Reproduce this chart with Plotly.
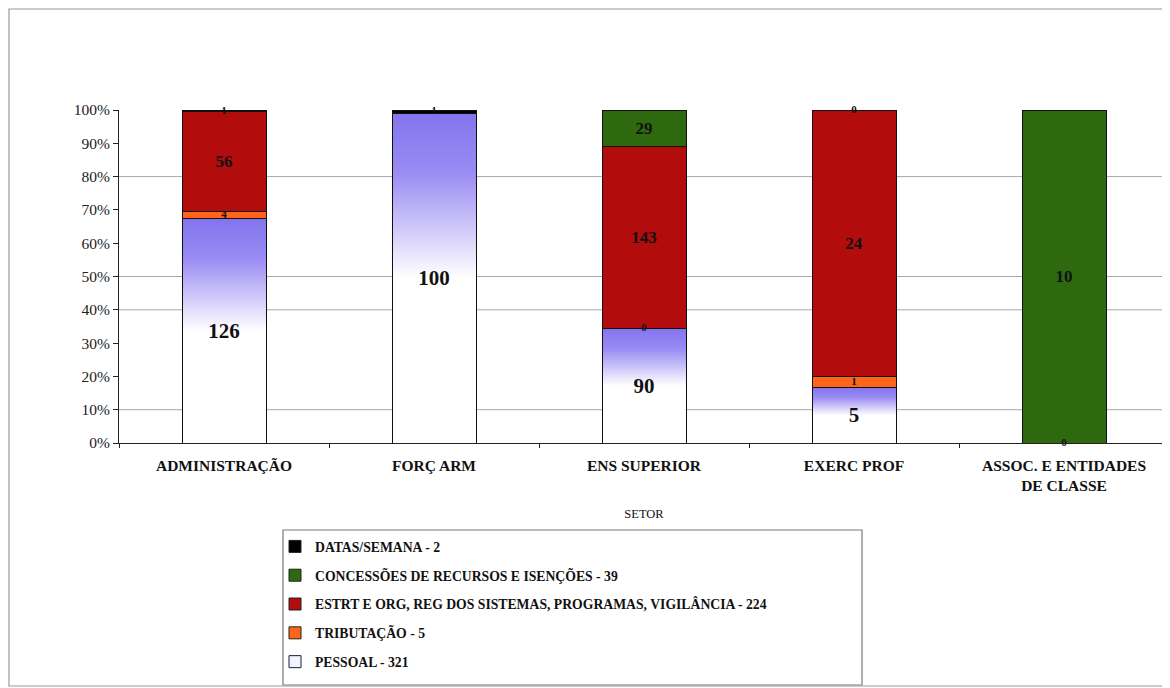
import plotly.graph_objects as go

# ---------------- data ----------------
categories = ["ADMINISTRAÇÃO", "FORÇ ARM", "ENS SUPERIOR", "EXERC PROF", "ASSOC. E ENTIDADES<br>DE CLASSE"]
pessoal = [126, 100, 90, 5, 0]
tributacao = [4, 0, 0, 1, 0]
estrt = [56, 0, 143, 24, 0]
concessoes = [0, 0, 29, 0, 10]
datas = [1, 1, 0, 0, 0]

series_names = [
    "PESSOAL - 321",
    "TRIBUTAÇÃO - 5",
    "ESTRT E ORG, REG DOS SISTEMAS, PROGRAMAS, VIGILÂNCIA - 224",
    "CONCESSÕES DE RECURSOS E ISENÇÕES - 39",
    "DATAS/SEMANA - 2",
]
series_values = [pessoal, tributacao, estrt, concessoes, datas]
series_colors = ["rgba(0,0,0,0)", "#ff6418", "#b20c0c", "#2f690f", "#000000"]
legend_colors = ["#f4f4ff", "#ff6418", "#b20c0c", "#2f690f", "#000000"]
label_sizes = [21, 12, 17, 17, 12]
# segments whose label is large enough to show inside
min_share_for_label = 0.05
# small dot-like labels on thin segments: (category index, series index)
small_labels = [(0, 4), (0, 1), (1, 4), (2, 1), (3, 4), (3, 1), (4, 0)]
y_tick_vals = [i / 10 for i in range(11)]
grid_lines = [0.1, 0.4, 0.5, 0.8]

# ---------------- derived ----------------
n = len(categories)
totals = [sum(s[i] for s in series_values) for i in range(n)]
shares = [[s[i] / totals[i] for i in range(n)] for s in series_values]
xs = list(range(n))
bar_w = 0.4

FONT = "Liberation Serif"

# page is offset by the 8px body margin; reference plot area: x 119..1169, y 110..443
OFF = 8
PL, PR, PT, PB = 119, 1169, 110, 443
PW, PH = PR - PL, PB - PT


def px(xp):
    return (xp - PL) / PW


def py(yp):
    return (PB - yp) / PH


fig = go.Figure()

# gradient fill for PESSOAL (drawn beneath the bars, on the base axes)
for i in xs:
    top = shares[0][i]
    if top <= 0:
        continue
    fig.add_trace(go.Scatter(
        x=[i - bar_w / 2, i + bar_w / 2, i + bar_w / 2, i - bar_w / 2, i - bar_w / 2],
        y=[0, 0, top, top, 0],
        mode="lines", fill="toself", line=dict(width=0),
        fillgradient=dict(type="vertical",
                          colorscale=[[0, "#ffffff"], [0.5, "#ffffff"], [0.82, "#9a8cf3"], [1, "#8374ee"]]),
        showlegend=False, hoverinfo="skip", xaxis="x", yaxis="y",
    ))

# stacked bars on overlay axes
for k, (name, vals) in enumerate(zip(series_names, series_values)):
    texts = [str(vals[i]) if shares[k][i] >= min_share_for_label else "" for i in xs]
    fig.add_trace(go.Bar(
        x=xs, y=shares[k], name=name, width=bar_w,
        marker=dict(color=series_colors[k], line=dict(color="#111111", width=1)),
        text=texts, textposition="inside", insidetextanchor="middle", textangle=0,
        constraintext="none",
        textfont=dict(family=FONT, size=label_sizes[k], color="#111111", weight="bold"),
        xaxis="x2", yaxis="y2", legendgroup=name, legendrank=len(series_names) - k,
        showlegend=False, hoverinfo="skip",
    ))
    # legend entry (same name/colour) so the legend swatch is visible
    fig.add_trace(go.Bar(
        x=[None], y=[None], name=name,
        marker=dict(color=legend_colors[k], line=dict(color="#1a1a40" if k == 0 else "#222222", width=1)),
        xaxis="x2", yaxis="y2", legendgroup=name, legendrank=len(series_names) - k,
        showlegend=True, hoverinfo="skip",
    ))

# small dot-like labels
sx, sy, st = [], [], []
for ci, si in small_labels:
    base = sum(shares[j][ci] for j in range(si))
    sx.append(ci)
    sy.append(base + shares[si][ci] / 2)
    st.append(str(series_values[si][ci]))
fig.add_trace(go.Scatter(
    x=sx, y=sy, text=st, mode="text",
    textfont=dict(family=FONT, size=11, color="#111111", weight="bold"),
    showlegend=False, hoverinfo="skip", xaxis="x2", yaxis="y2", cliponaxis=False,
))

shapes = []
for g in grid_lines:
    shapes.append(dict(type="line", xref="paper", yref="y", x0=0, x1=1, y0=g, y1=g,
                       line=dict(color="#a8a8a8", width=1), layer="below"))
# legend box
shapes.append(dict(type="rect", xref="paper", yref="paper",
                   x0=px(283), x1=px(862), y0=py(685), y1=py(530),
                   line=dict(color="#7a7a7a", width=1.2), fillcolor="rgba(0,0,0,0)"))
# chart border
shapes.append(dict(type="rect", xref="paper", yref="paper",
                   x0=px(9), x1=px(1168), y0=py(686), y1=py(9),
                   line=dict(color="#9a9a9a", width=1.2), fillcolor="rgba(0,0,0,0)"))

fig.update_layout(
    width=1170 - OFF, height=688 - OFF,
    margin=dict(l=PL - OFF, r=1170 - PR, t=PT - OFF, b=688 - PB),
    paper_bgcolor="white", plot_bgcolor="white",
    barmode="stack",
    showlegend=True,
    legend=dict(x=px(275), y=py(531), xanchor="left", yanchor="top",
                traceorder="grouped", tracegroupgap=8,
                font=dict(family=FONT, size=13.7, color="#111111", weight="bold"),
                bgcolor="rgba(0,0,0,0)", borderwidth=0, itemwidth=30),
    xaxis=dict(range=[-0.5, n - 0.5], tickvals=xs, ticktext=categories,
               tickfont=dict(family=FONT, size=15.5, color="#111111", weight="bold"),
               ticks="", showgrid=False, zeroline=False, ticklabelstandoff=8,
               showline=True, linecolor="#222222", linewidth=1,
               minor=dict(tickvals=[i - 0.5 for i in range(n + 1)], ticks="outside",
                          ticklen=4, tickcolor="#222222", showgrid=False),
               title=dict(text="SETOR", font=dict(family=FONT, size=12.5, color="#111111"), standoff=16),
               fixedrange=True),
    yaxis=dict(range=[0, 1], tickvals=y_tick_vals, tickformat=".0%",
               tickfont=dict(family=FONT, size=15.5, color="#222222"),
               ticks="outside", ticklen=5, tickcolor="#222222",
               showgrid=False, zeroline=False,
               showline=True, linecolor="#222222", linewidth=1, fixedrange=True),
    xaxis2=dict(range=[-0.5, n - 0.5], overlaying="x", visible=False, fixedrange=True),
    yaxis2=dict(range=[0, 1], overlaying="y", visible=False, fixedrange=True),
    shapes=shapes,
)

fig.write_html("out.html")
